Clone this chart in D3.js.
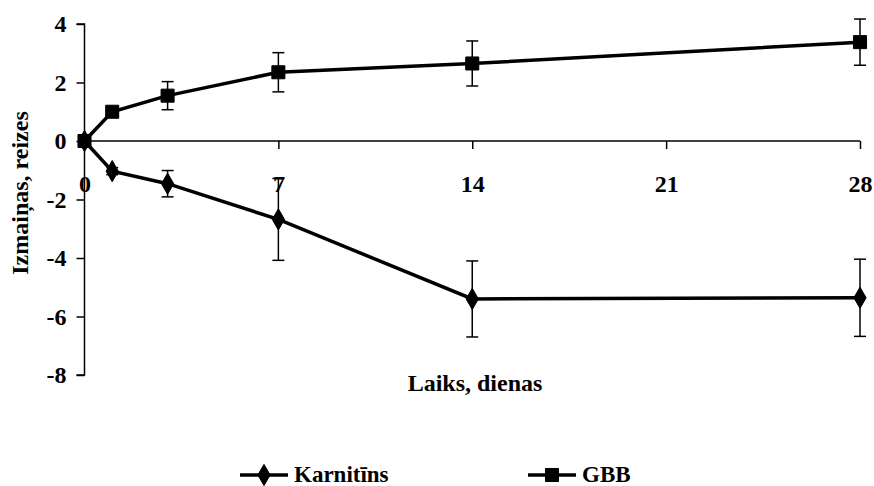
<!DOCTYPE html>
<html>
<head>
<meta charset="utf-8">
<style>
  body { margin: 0; background: #fff; }
  text { font-family: "Liberation Serif", "Times New Roman", serif; font-weight: bold; }
</style>
</head>
<body>
<script src="https://d3js.org/d3.v7.min.js"></script>
<script>
  // data
  const days = [0, 1, 3, 7, 14, 28]
  const karnitins = [0, -1.03, -1.46, -2.68, -5.40, -5.36]
  const karnitinsErr = [0, 0.12, 0.45, 1.40, 1.30, 1.32]
  const gbb = [0, 1.0, 1.55, 2.35, 2.65, 3.38]
  const gbbErr = [0, 0.15, 0.48, 0.67, 0.77, 0.79]
  const xTicks = [0, 7, 14, 21, 28]
  const yTicks = [-8, -6, -4, -2, 0, 2, 4]
  const seriesNames = ['Karnitīns', 'GBB']

  const width = 874
  const height = 486

  const svg = d3.select('body').append('svg')
    .attr('width', width)
    .attr('height', height)

  const x = d3.scaleLinear().domain([0, 28]).range([84.5, 860])
  const y = d3.scaleLinear().domain([-8, 4]).range([375, 24])

  // y axis
  const yAxis = d3.axisLeft(y).tickValues(yTicks).tickSize(8).tickPadding(10).tickFormat(d => String(d))
  const gy = svg.append('g').attr('transform', `translate(${x(0)},0)`).call(yAxis)
  gy.select('.domain').attr('stroke', '#000').attr('stroke-width', 1.5).attr('d', `M-8,${y(-8)}H0V${y(4)}H-8`)
  gy.selectAll('.tick line').attr('stroke-width', 1.5)
  gy.selectAll('.tick text').attr('font-size', 24).attr('font-family', '"Liberation Serif", serif')
    .attr('font-weight', 'bold').attr('fill', '#000')

  // x axis on the zero line
  const xAxis = d3.axisBottom(x).tickValues(xTicks).tickSize(8).tickPadding(26).tickFormat(d => String(d))
  const gx = svg.append('g').attr('transform', `translate(0,${y(0)})`).call(xAxis)
  gx.select('.domain').attr('stroke-width', 1.5).attr('d', `M${x(0)},0H${x(28)}`)
  gx.selectAll('.tick line').attr('stroke-width', 1.5)
  gx.selectAll('.tick text').attr('font-size', 24).attr('font-family', '"Liberation Serif", serif')
    .attr('font-weight', 'bold').attr('fill', '#000')

  // axis titles
  svg.append('text')
    .attr('x', 475).attr('y', 391)
    .attr('text-anchor', 'middle').attr('font-size', 24)
    .text('Laiks, dienas')

  svg.append('text')
    .attr('transform', 'translate(28,193) rotate(-90)')
    .attr('text-anchor', 'middle').attr('font-size', 24)
    .text('Izmaiņas, reizes')

  const line = d3.line().x(d => x(d[0])).y(d => y(d[1]))
  const diamond = d3.symbol().type(d3.symbolDiamond).size(130)
  const square = d3.symbol().type(d3.symbolSquare).size(170)

  function drawSeries(vals, errs, sym) {
    const pts = days.map((d, i) => [d, vals[i], errs[i]])
    const g = svg.append('g')
    // error bars
    const eb = g.selectAll('.eb').data(pts.filter(p => p[2] > 0)).enter().append('g')
    eb.append('line')
      .attr('x1', d => x(d[0])).attr('x2', d => x(d[0]))
      .attr('y1', d => y(d[1] + d[2])).attr('y2', d => y(d[1] - d[2]))
      .attr('stroke', '#000').attr('stroke-width', 1.5)
    eb.append('line')
      .attr('x1', d => x(d[0]) - 6).attr('x2', d => x(d[0]) + 6)
      .attr('y1', d => y(d[1] + d[2])).attr('y2', d => y(d[1] + d[2]))
      .attr('stroke', '#000').attr('stroke-width', 1.5)
    eb.append('line')
      .attr('x1', d => x(d[0]) - 6).attr('x2', d => x(d[0]) + 6)
      .attr('y1', d => y(d[1] - d[2])).attr('y2', d => y(d[1] - d[2]))
      .attr('stroke', '#000').attr('stroke-width', 1.5)
    g.append('path').datum(pts).attr('d', line)
      .attr('fill', 'none').attr('stroke', '#000').attr('stroke-width', 3.5)
    g.selectAll('.m').data(pts).enter().append('path')
      .attr('transform', d => `translate(${x(d[0])},${y(d[1])})`)
      .attr('d', sym).attr('fill', '#000')
      .attr('stroke', '#000').attr('stroke-width', 1).attr('stroke-linejoin', 'round')
  }

  drawSeries(karnitins, karnitinsErr, diamond)
  drawSeries(gbb, gbbErr, square)

  // legend
  const legendItems = [
    { name: seriesNames[0], sym: diamond, x0: 240 },
    { name: seriesNames[1], sym: square, x0: 528 }
  ]
  const lg = svg.selectAll('.lg').data(legendItems).enter().append('g')
    .attr('transform', d => `translate(${d.x0},475)`)
  lg.append('line').attr('x1', 0).attr('x2', 48).attr('stroke', '#000').attr('stroke-width', 3.5)
  lg.append('path').attr('transform', 'translate(24,0)').attr('d', d => d.sym()).attr('fill', '#000')
    .attr('stroke', '#000').attr('stroke-width', 1).attr('stroke-linejoin', 'round')
  lg.append('text').attr('x', 54).attr('y', 7).attr('font-size', 23).text(d => d.name)
</script>
</body>
</html>
